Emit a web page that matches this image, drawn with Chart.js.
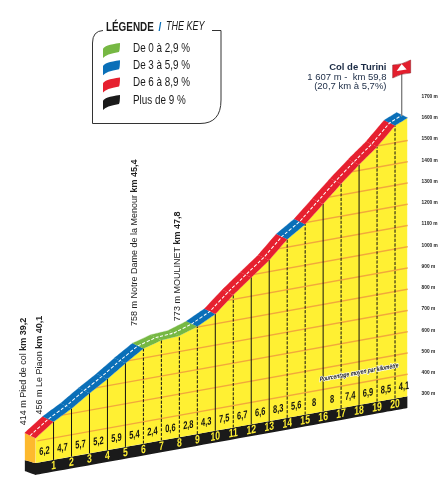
<!DOCTYPE html>
<html>
<head>
<meta charset="utf-8">
<title>Col de Turini</title>
<script src="https://cdn.jsdelivr.net/npm/chart.js@4"></script>
<style>
    html, body { margin: 0; padding: 0; background: #fff; }
    canvas { display: block; }
</style>
</head>
<body>
<canvas id="profile" width="439" height="485"></canvas>
<script>
// Climb data
const kmMarks = [0, 1, 2, 3, 4, 5, 6, 7, 8, 9, 10, 11, 12, 13, 14, 15, 16, 17, 18, 19, 20, 20.7];
const elevations = [414, 476, 523, 580, 632, 691, 745, 769, 775, 803, 846, 921, 988, 1054, 1137, 1193, 1273, 1353, 1427, 1496, 1581, 1607];
const gradients = [6.2, 4.7, 5.7, 5.2, 5.9, 5.4, 2.4, 0.6, 2.8, 4.3, 7.5, 6.7, 6.6, 8.3, 5.6, 8, 8, 7.4, 6.9, 8.5, 4.1];
const kmLabels = [1, 2, 3, 4, 5, 6, 7, 8, 9, 10, 11, 12, 13, 14, 15, 16, 17, 18, 19, 20];
const dashedKms = [6, 7, 8, 9, 11, 14, 15, 17, 19, 20];
const axisTicks = [300, 400, 500, 600, 700, 800, 900, 1000, 1100, 1200, 1300, 1400, 1500, 1600, 1700];
const gridLevels = [400, 500, 600, 700, 800, 900, 1000, 1100, 1200, 1300, 1400, 1500];

// Legend
const bandLimits = [3, 6, 9, Infinity];
const bandColors = ['#76B843', '#0A6FB8', '#E6202F', '#1A1A1A'];
const bandLabels = ['De 0 à 2,9 %', 'De 3 à 5,9 %', 'De 6 à 8,9 %', 'Plus de 9 %'];

// Named points along the climb
const passKms = [0, 0.9, 6.2, 8.6];
const passElevations = [414, 456, 758, 773];
const passNames = ['414 m Pied de col ', '456 m Le Piaon ', '758 m Notre Dame de la Menour ', '773 m MOULINET '];
const passKmTexts = ['km 39,2', 'km 40,1', 'km 45,4', 'km 47,8'];
const passGaps = [13, 12, 19, 13];

const summitLines = ['Col de Turini', '1 607 m -  km 59,8', '(20,7 km à 5,7%)'];

// Look of the drawing
const SKEW = 0.18;
const SKEW_DROP = 1.5;
const BASE = 297;
const BAND_BOTTOM = 241;
const SIDE_KM = -0.61;
const RIBBON_RISE = 34;
const SANS = '"Liberation Sans", sans-serif';

function bandColor(gradient) {
    return bandColors[bandLimits.findIndex(limit => gradient < limit)];
}

function profilePoints() {
    return kmMarks.map((km, i) => ({ x: km, y: elevations[i] }));
}

function baseLayer(extra) {
    return Object.assign({ pointRadius: 0, borderWidth: 0, clip: false, tension: 0.001, fill: false }, extra);
}

// No condensed face is installed, so squeeze the regular one
function fillNarrow(ctx, text, x, y, ratio, stroke) {
    ctx.save();
    ctx.translate(x, y);
    ctx.scale(ratio, 1);
    if (stroke) ctx.strokeText(text, 0, 0);
    ctx.fillText(text, 0, 0);
    ctx.restore();
}

// Datasets listed from back to front
const layers = [];

layers.push(baseLayer({
    backgroundColor: '#1A1A1A', fill: 'shape',
    data: [
        { x: SIDE_KM, y: BASE + 24 }, { x: 0, y: BASE }, { x: 20.7, y: BASE },
        { x: 20.7, y: BAND_BOTTOM }, { x: 0, y: BAND_BOTTOM }, { x: SIDE_KM, y: BAND_BOTTOM + 28 }
    ]
}));
layers.push(baseLayer({
    backgroundColor: '#FDB92E', fill: 'shape',
    data: [
        { x: SIDE_KM, y: elevations[0] + RIBBON_RISE }, { x: 0, y: elevations[0] },
        { x: 0, y: BASE }, { x: SIDE_KM, y: BASE + 24 }
    ]
}));
layers.push(baseLayer({ backgroundColor: '#FFF033', fill: { value: BASE }, data: profilePoints() }));

gridLevels.forEach(level => {
    layers.push(baseLayer({
        borderColor: '#F2A83C', borderWidth: 1.3, tension: 0,
        data: [{ x: 0.1, y: level }, { x: 20.7, y: level }]
    }));
});

// Hides the grid above the road
layers.push(baseLayer({ backgroundColor: '#FFFFFF', fill: 'end', data: profilePoints() }));

kmLabels.forEach(km => {
    const i = kmMarks.indexOf(km);
    layers.push(baseLayer({
        borderColor: '#111111', borderWidth: 1,
        borderDash: dashedKms.includes(km) ? [3.2, 1.4] : [],
        data: [{ x: km, y: BASE }, { x: km, y: elevations[i] }]
    }));
});

gradients.forEach((gradient, i) => {
    const color = bandColor(gradient);
    layers.push(baseLayer({
        backgroundColor: color, borderColor: color, borderWidth: 0.3, fill: 'shape',
        data: [
            { x: kmMarks[i], y: elevations[i] },
            { x: kmMarks[i + 1], y: elevations[i + 1] },
            { x: kmMarks[i + 1] + SIDE_KM, y: elevations[i + 1] + RIBBON_RISE },
            { x: kmMarks[i] + SIDE_KM, y: elevations[i] + RIBBON_RISE }
        ]
    }));
});

layers.push(baseLayer({
    borderColor: '#FFFFFF', borderWidth: 1.1, borderDash: [3, 1.6],
    data: kmMarks.map((km, i) => ({ x: km + SIDE_KM / 2, y: elevations[i] + RIBBON_RISE / 2 }))
}));

// Draws the marks on the slanted base of the profile
const slantPlugin = {
    id: 'slant',
    beforeDatasetsDraw(chart) {
        const ctx = chart.ctx;
        ctx.save();
        ctx.transform(1, -SKEW, 0, 1, 0, SKEW * chart.chartArea.right + SKEW_DROP);
    },
    afterDatasetsDraw(chart) {
        const ctx = chart.ctx;
        const x = chart.scales.x;
        const y = chart.scales.y;

        ctx.textAlign = 'center';
        ctx.textBaseline = 'middle';

        ctx.fillStyle = '#111111';
        ctx.font = 'bold 11px ' + SANS;
        gradients.forEach((gradient, i) => {
            fillNarrow(ctx, String(gradient).replace('.', ','), x.getPixelForValue(kmMarks[i] + 0.5), y.getPixelForValue(BASE + 48), 0.68);
        });

        ctx.fillStyle = '#FFF033';
        ctx.font = 'bold 12px ' + SANS;
        kmLabels.forEach(km => {
            fillNarrow(ctx, String(km), x.getPixelForValue(km), y.getPixelForValue((BASE + BAND_BOTTOM) / 2), 0.72);
        });

        ctx.font = 'italic bold 6.6px ' + SANS;
        ctx.lineWidth = 1.4;
        ctx.strokeStyle = '#FFFFFF';
        ctx.fillStyle = '#111111';
        fillNarrow(ctx, 'Pourcentage moyen par kilomètre', x.getPixelForValue(18), y.getPixelForValue(449), 0.74, true);

        ctx.restore();
    }
};

function drawPassLabels(chart) {
    const ctx = chart.ctx;
    const x = chart.scales.x;
    const y = chart.scales.y;

    passKms.forEach((km, i) => {
        const px = x.getPixelForValue(km);
        const py = y.getPixelForValue(passElevations[i]) + SKEW * (chart.chartArea.right - px) + SKEW_DROP;
        ctx.save();
        ctx.translate(px - 12.5, py - passGaps[i]);
        ctx.rotate(-Math.PI / 2);
        ctx.textAlign = 'left';
        ctx.textBaseline = 'middle';
        ctx.fillStyle = '#222222';
        ctx.font = '9px ' + SANS;
        ctx.fillText(passNames[i], 0, 0);
        const offset = ctx.measureText(passNames[i]).width;
        ctx.font = 'bold 9px ' + SANS;
        ctx.fillText(passKmTexts[i], offset, 0);
        ctx.restore();
    });
}

function drawSummit(chart) {
    const ctx = chart.ctx;
    const poleX = chart.scales.x.getPixelForValue(20.37);

    ctx.strokeStyle = '#808080';
    ctx.lineWidth = 1.4;
    ctx.beginPath();
    ctx.moveTo(poleX, 74);
    ctx.lineTo(poleX, 116);
    ctx.stroke();

    ctx.fillStyle = '#E31E2D';
    ctx.strokeStyle = '#8A1A22';
    ctx.lineWidth = 0.5;
    ctx.beginPath();
    ctx.moveTo(poleX - 9, 65);
    ctx.quadraticCurveTo(poleX, 65, poleX + 9, 60);
    ctx.lineTo(poleX + 9, 73);
    ctx.quadraticCurveTo(poleX, 73, poleX - 9, 78);
    ctx.closePath();
    ctx.fill();
    ctx.stroke();

    ctx.fillStyle = '#FFFFFF';
    ctx.beginPath();
    ctx.moveTo(poleX, 64);
    ctx.lineTo(poleX + 5, 69.5);
    ctx.lineTo(poleX - 5, 71);
    ctx.closePath();
    ctx.fill();

    ctx.textAlign = 'right';
    ctx.textBaseline = 'middle';
    ctx.fillStyle = '#1A2A44';
    ctx.font = 'bold 9.5px ' + SANS;
    ctx.fillText(summitLines[0], 386.5, 67.5);
    ctx.font = '9.5px ' + SANS;
    ctx.fillText(summitLines[1], 386.5, 77);
    ctx.fillText(summitLines[2], 386.5, 86);
}

function drawLegend(chart) {
    const ctx = chart.ctx;

    ctx.strokeStyle = '#333333';
    ctx.lineWidth = 1;
    ctx.beginPath();
    ctx.moveTo(103, 30.5);
    ctx.quadraticCurveTo(92.5, 31, 92.5, 43);
    ctx.lineTo(92.5, 123.5);
    ctx.lineTo(200, 123.5);
    ctx.quadraticCurveTo(221, 123.5, 221, 100);
    ctx.lineTo(221, 30.5);
    ctx.lineTo(212, 30.5);
    ctx.stroke();

    ctx.textAlign = 'left';
    ctx.textBaseline = 'middle';
    ctx.fillStyle = '#1A1A1A';
    ctx.font = 'bold 13px ' + SANS;
    fillNarrow(ctx, 'LÉGENDE', 106, 27, 0.76);
    ctx.fillStyle = '#0A6FB8';
    fillNarrow(ctx, '/', 158.5, 27, 0.8);
    ctx.fillStyle = '#1A1A1A';
    ctx.font = 'italic 12.5px ' + SANS;
    fillNarrow(ctx, 'THE KEY', 166, 27, 0.72);

    bandColors.forEach((color, i) => {
        const top = 43 + i * 17.3;
        ctx.fillStyle = color;
        ctx.beginPath();
        ctx.moveTo(103, top + 6);
        ctx.quadraticCurveTo(104, top + 2, 120, top);
        ctx.quadraticCurveTo(120, top + 7, 119, top + 9);
        ctx.quadraticCurveTo(106, top + 11, 103, top + 15);
        ctx.closePath();
        ctx.fill();

        ctx.fillStyle = '#1A1A1A';
        ctx.font = '13px ' + SANS;
        fillNarrow(ctx, bandLabels[i], 133, 48.5 + i * 17.2, 0.76);
    });
}

const annotationPlugin = {
    id: 'annotations',
    afterDraw(chart) {
        drawPassLabels(chart);
        drawSummit(chart);
        drawLegend(chart);
    }
};

new Chart(document.getElementById('profile'), {
    type: 'line',
    data: { datasets: layers.slice().reverse() },
    plugins: [slantPlugin, annotationPlugin],
    options: {
        responsive: false,
        animation: false,
        events: [],
        layout: { padding: { left: 24.6, top: 75.25, bottom: 48.5, right: 0 } },
        plugins: { legend: { display: false }, tooltip: { enabled: false } },
        scales: {
            x: { type: 'linear', min: SIDE_KM, max: 20.7, display: false },
            y: {
                type: 'linear',
                position: 'right',
                min: 100,
                max: 1800,
                grid: { display: false },
                border: { display: false },
                afterBuildTicks(scale) { scale.ticks = axisTicks.map(value => ({ value })); },
                afterFit(scale) { scale.width = 31.4; },
                ticks: {
                    autoSkip: false,
                    padding: 6,
                    color: '#222222',
                    font: { family: SANS, size: 4.8, weight: 'bold' },
                    callback: value => value + ' m'
                }
            }
        }
    }
});
</script>
</body>
</html>
